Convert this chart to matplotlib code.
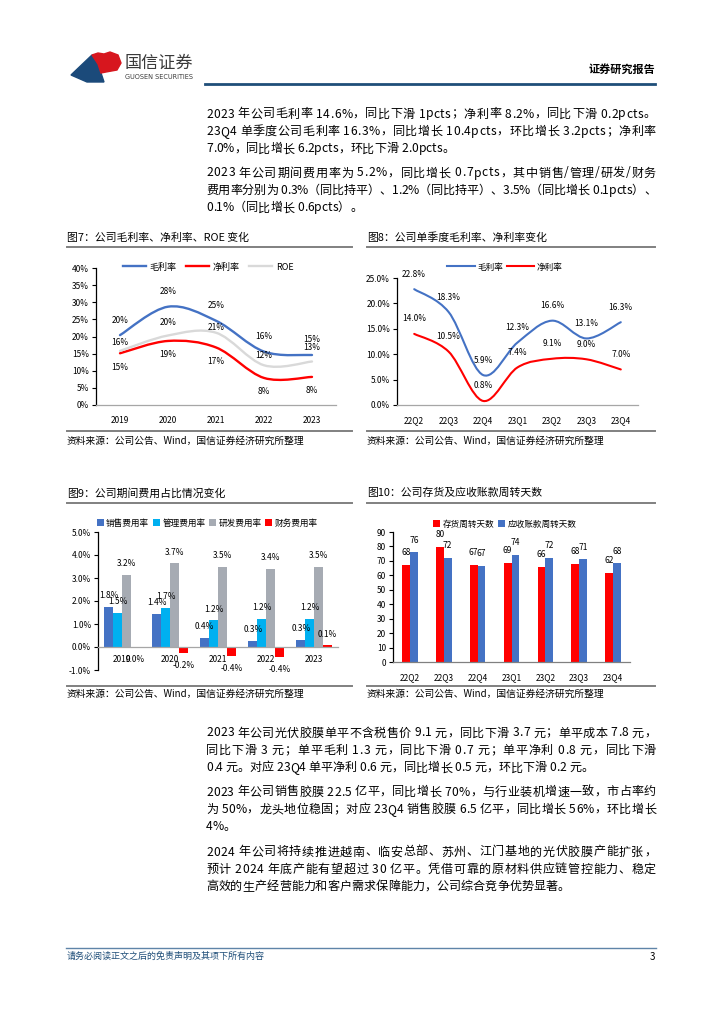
import numpy as np
import matplotlib
matplotlib.use("Agg")
import matplotlib.pyplot as plt
from matplotlib.path import Path
from matplotlib.patches import PathPatch, Polygon
from matplotlib.lines import Line2D
from matplotlib.text import Text

plt.rcParams['font.family'] = ['Noto Sans CJK SC', 'DejaVu Sans']
plt.rcParams['axes.unicode_minus'] = False

# -------------------------------
# Data
# -------------------------------
years = ["2019", "2020", "2021", "2022", "2023"]
gross_y = [20.4, 28.7, 24.6, 15.6, 14.6]
net_y = [15.1, 18.7, 16.8, 7.9, 8.2]
roe_y = [15.8, 20.3, 21.1, 11.6, 12.7]
gross_y_lbl = ["20%", "28%", "25%", "16%", "15%"]
net_y_lbl = ["15%", "19%", "17%", "8%", "8%"]
roe_y_lbl = ["16%", "20%", "21%", "12%", "13%"]

quarters = ["22Q2", "22Q3", "22Q4", "23Q1", "23Q2", "23Q3", "23Q4"]
gross_q = [22.8, 18.3, 5.9, 12.3, 16.6, 13.1, 16.3]
net_q = [14.0, 10.5, 0.8, 7.4, 9.1, 9.0, 7.0]

sales_exp = [1.76, 1.44, 0.40, 0.28, 0.32]
admin_exp = [1.50, 1.70, 1.17, 1.22, 1.22]
rd_exp = [3.15, 3.65, 3.50, 3.40, 3.50]
fin_exp = [0.0, -0.27, -0.40, -0.45, 0.07]
sales_lbl = ["1.8%", "1.4%", "0.4%", "0.3%", "0.3%"]
admin_lbl = ["1.5%", "1.7%", "1.2%", "1.2%", "1.2%"]
rd_lbl = ["3.2%", "3.7%", "3.5%", "3.4%", "3.5%"]
fin_lbl = ["0.0%", "-0.2%", "-0.4%", "-0.4%", "0.1%"]

inv_days = [67.5, 79.8, 67.2, 68.8, 66.0, 68.0, 61.8]
ar_days = [76.0, 72.0, 66.8, 74.2, 72.0, 71.0, 68.5]

para1 = ["2023 年公司毛利率 14.6%，同比下滑 1pcts；净利率 8.2%，同比下滑 0.2pcts。",
         "23Q4 单季度公司毛利率 16.3%，同比增长 10.4pcts，环比增长 3.2pcts；净利率",
         "7.0%，同比增长 6.2pcts，环比下滑 2.0pcts。"]
para2 = ["2023 年公司期间费用率为 5.2%，同比增长 0.7pcts，其中销售/管理/研发/财务",
         "费用率分别为 0.3%（同比持平）、1.2%（同比持平）、3.5%（同比增长 0.1pcts）、",
         "0.1%（同比增长 0.6pcts）。"]
para3 = ["2023 年公司光伏胶膜单平不含税售价 9.1 元，同比下滑 3.7 元；单平成本 7.8 元，",
         "同比下滑 3 元；单平毛利 1.3 元，同比下滑 0.7 元；单平净利 0.8 元，同比下滑",
         "0.4 元。对应 23Q4 单平净利 0.6 元，同比增长 0.5 元，环比下滑 0.2 元。"]
para4 = ["2023 年公司销售胶膜 22.5 亿平，同比增长 70%，与行业装机增速一致，市占率约",
         "为 50%，龙头地位稳固；对应 23Q4 销售胶膜 6.5 亿平，同比增长 56%，环比增长",
         "4%。"]
para5 = ["2024 年公司将持续推进越南、临安总部、苏州、江门基地的光伏胶膜产能扩张，",
         "预计 2024 年底产能有望超过 30 亿平。凭借可靠的原材料供应链管控能力、稳定",
         "高效的生产经营能力和客户需求保障能力，公司综合竞争优势显著。"]

source = "资料来源：公司公告、Wind，国信证券经济研究所整理"

BLUE = "#4472C4"
RED = "#FF0000"
W, H = 724, 1024


def fx(x):
    return x / W


def fy(y):
    return 1 - y / H


def axes_px(fig, left, top, right, bottom):
    return fig.add_axes([fx(left), fy(bottom), (right - left) / W, (bottom - top) / H])


def smooth(ax, xs, ys, color, lw):
    # excel-like smoothed line: catmull-rom as cubic bezier
    pts = np.column_stack([xs, ys]).astype(float)
    n = len(pts)
    verts = [pts[0]]
    codes = [Path.MOVETO]
    for i in range(n - 1):
        p0 = pts[i - 1] if i > 0 else pts[i]
        p1, p2 = pts[i], pts[i + 1]
        p3 = pts[i + 2] if i + 2 < n else pts[i + 1]
        verts += [p1 + (p2 - p0) / 6, p2 - (p3 - p1) / 6, p2]
        codes += [Path.CURVE4] * 3
    ax.add_patch(PathPatch(Path(verts, codes), fill=False, edgecolor=color,
                           linewidth=lw, capstyle='round'))


def style_axes(ax):
    for s in ['top', 'right']:
        ax.spines[s].set_visible(False)
    ax.spines['left'].set_color('black')
    ax.spines['left'].set_linewidth(0.9)
    ax.spines['bottom'].set_color('#A6A6A6')
    ax.spines['bottom'].set_linewidth(0.9)
    ax.tick_params(axis='y', direction='out', length=3, width=0.8, labelsize=6, pad=2)
    ax.tick_params(axis='x', length=0, labelsize=6, pad=8)


fig = plt.figure(figsize=(W / 100, H / 100), dpi=100)
renderer = fig.canvas.get_renderer()

# -------------------------------
# Header / footer
# -------------------------------
fig.patches.append(Polygon([(fx(71), fy(75)), (fx(92), fy(55)), (fx(98), fy(64)),
                            (fx(101), fy(73)), (fx(104), fy(82)), (fx(87), fy(82))],
                           closed=True, transform=fig.transFigure, color="#1B4A7A"))
fig.patches.append(Polygon([(fx(92), fy(55)), (fx(98), fy(53)), (fx(104), fy(54)),
                            (fx(110), fy(52)), (fx(118), fy(55)), (fx(121), fy(63)),
                            (fx(117), fy(70)), (fx(106), fy(72)), (fx(101), fy(73)),
                            (fx(98), fy(64))],
                           closed=True, transform=fig.transFigure, color="#D7161E"))
fig.text(fx(125), fy(63), "国信证券", fontsize=12.3, color="#3A3A3A", va='center', ha='left')
fig.text(fx(125), fy(77), "GUOSEN SECURITIES", fontsize=4.7, color="#3A3A3A",
         va='center', ha='left', family=['DejaVu Sans'])
fig.text(fx(655), fy(69), "证券研究报告", fontsize=8, fontweight='bold', va='center', ha='right')
fig.add_artist(Line2D([fx(205), fx(655)], [fy(84), fy(84)], color="#1F4E79", linewidth=2))

fig.add_artist(Line2D([fx(66), fx(656)], [fy(948), fy(948)], color="#5F84A8", linewidth=1))
fig.text(fx(67), fy(956), "请务必阅读正文之后的免责声明及其项下所有内容", fontsize=6.5,
         color="#1F4E79", style='italic', va='center', ha='left')
fig.text(fx(655), fy(957), "3", fontsize=7, va='center', ha='right')


# -------------------------------
# Body text (justified lines like the word document)
# -------------------------------
def char_width(ch, size):
    t = Text(0, 0, ch, fontsize=size, figure=fig)
    if ch == " ":
        # a lone space measures as zero, take it from a pair of letters
        a = Text(0, 0, "a a", fontsize=size, figure=fig).get_window_extent(renderer).width
        b = Text(0, 0, "aa", fontsize=size, figure=fig).get_window_extent(renderer).width
        return a - b
    return t.get_window_extent(renderer).width


def text_line(line, x0, x1, y, size, justify):
    widths = [char_width(c, size) for c in line]
    extra = 0.0
    if justify and len(line) > 1:
        extra = (x1 - x0 - sum(widths)) / (len(line) - 1)
    xpos = x0
    for c, w in zip(line, widths):
        if c != " ":
            fig.text(fx(xpos), fy(y), c, fontsize=size, va='center', ha='left')
        xpos += w + extra


for lines, y0 in [(para1, 114), (para2, 173), (para3, 733), (para4, 792), (para5, 852)]:
    for i, line in enumerate(lines):
        text_line(line, 206, 656, y0 + i * 17.4, 8.7, i < len(lines) - 1)

# -------------------------------
# Chart frames: titles, rules, sources
# -------------------------------
frames = [(67, 352, 238, 247, 431, 441, "图7：公司毛利率、净利率、ROE 变化"),
          (367, 655, 238, 247, 431, 441, "图8：公司单季度毛利率、净利率变化"),
          (67, 352, 493, 503, 686, 694, "图9：公司期间费用占比情况变化"),
          (367, 655, 493, 503, 686, 694, "图10：公司存货及应收账款周转天数")]
for x0, x1, ty, ly, sy, st, title in frames:
    fig.text(fx(x0), fy(ty), title, fontsize=7.8, va='center', ha='left')
    fig.add_artist(Line2D([fx(x0), fx(x1)], [fy(ly), fy(ly)], color="#808080", linewidth=1.4))
    fig.add_artist(Line2D([fx(x0), fx(x1)], [fy(sy), fy(sy)], color="#808080", linewidth=1.4))
    fig.text(fx(x0), fy(st), source, fontsize=7, va='center', ha='left')

# -------------------------------
# Chart 7
# -------------------------------
ax7 = axes_px(fig, 96, 268, 336, 405)
style_axes(ax7)
x = np.arange(len(years))
smooth(ax7, x, gross_y, BLUE, 1.7)
smooth(ax7, x, net_y, RED, 1.7)
smooth(ax7, x, roe_y, "#D9D9D9", 1.7)
ax7.set_xlim(-0.5, len(years) - 0.5)
ax7.set_ylim(0, 40)
ax7.set_yticks(range(0, 41, 5))
ax7.set_yticklabels([f"{v}%" for v in range(0, 41, 5)])
ax7.set_xticks(x)
ax7.set_xticklabels(years)
roe_off = [8, 13, 5, 10, 14]
for i in range(len(years)):
    ax7.annotate(gross_y_lbl[i], (x[i], gross_y[i]), xytext=(0, 15), textcoords='offset pixels',
                 ha='center', va='center', fontsize=6)
    ax7.annotate(net_y_lbl[i], (x[i], net_y[i]), xytext=(0, -14), textcoords='offset pixels',
                 ha='center', va='center', fontsize=6)
    ax7.annotate(roe_y_lbl[i], (x[i], roe_y[i]), xytext=(0, roe_off[i]), textcoords='offset pixels',
                 ha='center', va='center', fontsize=6)
h7 = [Line2D([], [], color=BLUE, lw=1.7), Line2D([], [], color=RED, lw=1.7),
      Line2D([], [], color="#D9D9D9", lw=1.7)]
fig.legend(h7, ["毛利率", "净利率", "ROE"], loc='center', bbox_to_anchor=(fx(208), fy(267)),
           ncol=3, frameon=False, fontsize=6.5, handlelength=2.6, columnspacing=1.0,
           handletextpad=0.4)

# -------------------------------
# Chart 8
# -------------------------------
ax8 = axes_px(fig, 397, 278, 638, 405)
style_axes(ax8)
xq = np.arange(len(quarters))
smooth(ax8, xq, gross_q, BLUE, 1.5)
smooth(ax8, xq, net_q, RED, 1.5)
ax8.set_xlim(-0.5, len(quarters) - 0.5)
ax8.set_ylim(0, 25)
ax8.set_yticks(np.arange(0, 25.1, 5))
ax8.set_yticklabels([f"{v:.1f}%" for v in np.arange(0, 25.1, 5)])
ax8.set_xticks(xq)
ax8.set_xticklabels(quarters)
for i in range(len(quarters)):
    ax8.annotate(f"{gross_q[i]:.1f}%", (xq[i], gross_q[i]), xytext=(0, 15),
                 textcoords='offset pixels', ha='center', va='center', fontsize=6)
    ax8.annotate(f"{net_q[i]:.1f}%", (xq[i], net_q[i]), xytext=(0, 15),
                 textcoords='offset pixels', ha='center', va='center', fontsize=6)
h8 = [Line2D([], [], color=BLUE, lw=1.5), Line2D([], [], color=RED, lw=1.5)]
fig.legend(h8, ["毛利率", "净利率"], loc='center', bbox_to_anchor=(fx(505), fy(267)),
           ncol=2, frameon=False, fontsize=6.2, handlelength=3.2, columnspacing=0.4,
           handletextpad=0.3)

# -------------------------------
# Chart 9
# -------------------------------
ax9 = axes_px(fig, 98, 532, 338, 670)
style_axes(ax9)
ax9.spines['bottom'].set_position(('data', 0))
bw = 0.184
series9 = [(sales_exp, sales_lbl, BLUE, "销售费用率"),
           (admin_exp, admin_lbl, "#00B0F0", "管理费用率"),
           (rd_exp, rd_lbl, "#A6ABB3", "研发费用率"),
           (fin_exp, fin_lbl, RED, "财务费用率")]
for k, (vals, lbls, col, name) in enumerate(series9):
    pos = x + (k - 1.5) * bw
    ax9.bar(pos, vals, width=bw, color=col, label=name)
    for p, v, t in zip(pos, vals, lbls):
        if v > 0:
            ax9.annotate(t, (p, v), xytext=(0, 11), textcoords='offset pixels',
                         ha='center', va='center', fontsize=6)
        else:
            ax9.annotate(t, (p, v), xytext=(0, -12), textcoords='offset pixels',
                         ha='center', va='center', fontsize=6)
ax9.set_xlim(-0.5, len(years) - 0.5)
ax9.set_ylim(-1, 5)
ax9.set_yticks(range(-1, 6))
ax9.set_yticklabels([f"{v:.1f}%" for v in range(-1, 6)])
ax9.set_xticks(x)
ax9.set_xticklabels(years)
ax9.tick_params(axis='x', pad=6)
h9, l9 = ax9.get_legend_handles_labels()
fig.legend(h9, l9, loc='center', bbox_to_anchor=(fx(207), fy(523)), ncol=4, frameon=False,
           fontsize=6.2, handlelength=0.8, handleheight=0.8, columnspacing=0.4,
           handletextpad=0.3)

# -------------------------------
# Chart 10
# -------------------------------
ax10 = axes_px(fig, 393, 532, 630, 662)
style_axes(ax10)
bw2 = 0.23
b1 = ax10.bar(xq - bw2 / 2, inv_days, width=bw2, color=RED, label="存货周转天数")
b2 = ax10.bar(xq + bw2 / 2, ar_days, width=bw2, color=BLUE, label="应收账款周转天数")
for bars, vals in [(b1, inv_days), (b2, ar_days)]:
    for b, v in zip(bars, vals):
        ax10.annotate(f"{v:.0f}", (b.get_x() + b.get_width() / 2, v), xytext=(0, 12),
                      textcoords='offset pixels', ha='center', va='center', fontsize=6)
ax10.set_xlim(-0.5, len(quarters) - 0.5)
ax10.set_ylim(0, 90)
ax10.set_yticks(range(0, 91, 10))
ax10.set_xticks(xq)
ax10.set_xticklabels(quarters)
ax10.spines['bottom'].set_color('#808080')
h10, l10 = ax10.get_legend_handles_labels()
fig.legend(h10, l10, loc='center', bbox_to_anchor=(fx(505), fy(524)), ncol=2, frameon=False,
           fontsize=6.2, handlelength=0.8, handleheight=0.8, columnspacing=0.4,
           handletextpad=0.3)

fig.savefig("out.png", dpi=100)
